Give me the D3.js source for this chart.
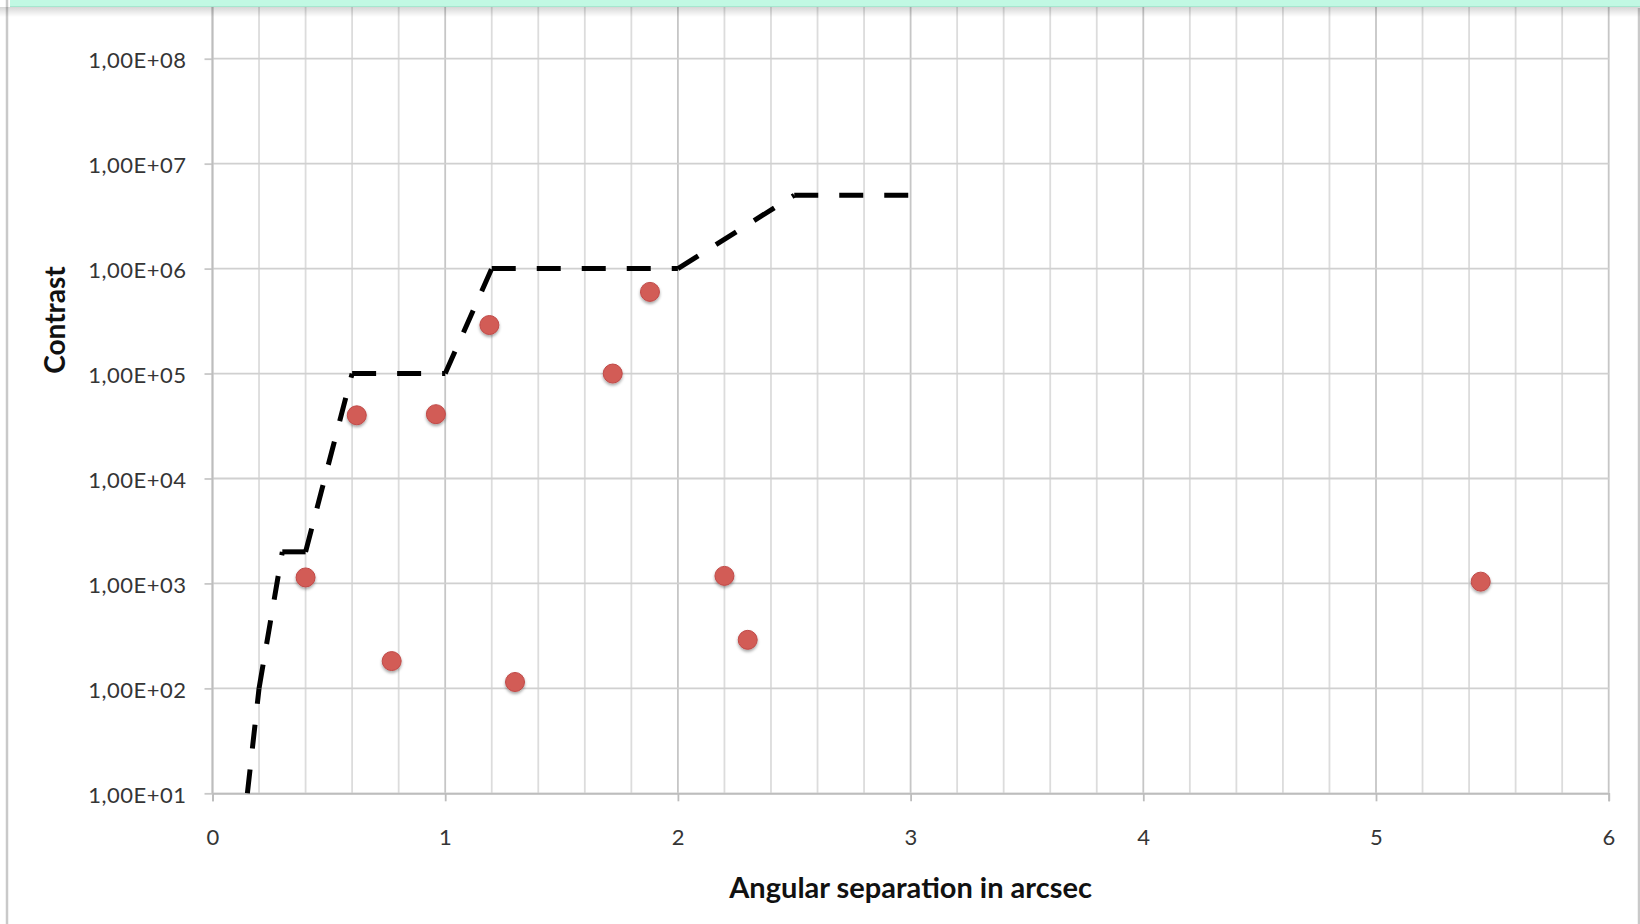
<!DOCTYPE html>
<html>
<head>
	<meta charset="utf-8">
	<title>Contrast vs angular separation</title>
	<style>
		body { margin: 0; background: #fff; }
		svg { display: block; }
		.tick text { font-family: 'Lato', sans-serif; font-size: 22px; letter-spacing: 0.5px; fill: #353535; }
		.title { font-family: 'Lato', sans-serif; font-weight: 700; font-size: 29px; fill: #111; }
	</style>
</head>
<body>
	<svg width="1640" height="924"></svg>

<script src="https://d3js.org/d3.v7.min.js"></script>
<script>

	// companions: separation (arcsec) and contrast
	const sepX = [0.40, 0.62, 0.77, 0.96, 1.19, 1.30, 1.72, 1.88, 2.20, 2.30, 5.45]
	const contrastY = [1140, 40000, 182, 41000, 290000, 115, 100000, 600000, 1180, 290, 1040]

	// detection limit curve
	const limitX = [0.15, 0.2, 0.3, 0.4, 0.6, 1.0, 1.2, 2.0, 2.5, 3.0]
	const limitY = [10, 100, 2000, 2000, 1e5, 1e5, 1e6, 1e6, 5e6, 5e6]

	const xTicks = [0, 1, 2, 3, 4, 5, 6]
	const xMinor = d3.range(0, 6.0001, 0.2)
	const yTicks = [1e1, 1e2, 1e3, 1e4, 1e5, 1e6, 1e7, 1e8]

	const W = 1640, H = 924
	const left = 212.5, right = 1608.7, bottom = 793.3

	const svg = d3.select('svg')

	const x = d3.scaleLinear().domain([0, 6]).range([left, right])
	const y = d3.scaleLog().domain([10, 1e9]).range([bottom, bottom - 8 * 104.94])

	// excel style "1,00E+08"
	function fmt(d) {
		let e = Math.round(Math.log10(d))
		return '1,00E+' + (e < 10 ? '0' + e : e)
	}

	let defs = svg.append('defs')
	let f = defs.append('filter').attr('id', 'shadow')
		.attr('x', '-50%').attr('y', '-50%').attr('width', '200%').attr('height', '200%')
	f.append('feDropShadow').attr('dx', 0).attr('dy', 2).attr('stdDeviation', 1.6)
		.attr('flood-color', '#000').attr('flood-opacity', 0.35)

	let lg = defs.append('linearGradient').attr('id', 'topShade')
		.attr('x1', 0).attr('y1', 0).attr('x2', 0).attr('y2', 1)
	lg.append('stop').attr('offset', 0).attr('stop-color', '#000').attr('stop-opacity', 0.16)
	lg.append('stop').attr('offset', 1).attr('stop-color', '#000').attr('stop-opacity', 0)

	// gridlines
	let grid = svg.append('g')

	grid.selectAll('.vminor')
		.data(xMinor)
		.join('line')
		.attr('x1', d => x(d)).attr('x2', d => x(d))
		.attr('y1', 0).attr('y2', bottom)
		.attr('stroke', d => Math.abs(d - Math.round(d)) < 1e-6 ? '#c6c6c6' : '#dcdcdc')
		.attr('stroke-width', 1.8)

	grid.selectAll('.hgrid')
		.data(yTicks)
		.join('line')
		.attr('x1', left).attr('x2', right)
		.attr('y1', d => y(d)).attr('y2', d => y(d))
		.attr('stroke', '#d0d0d0')
		.attr('stroke-width', 1.8)

	// axes
	let xAxis = svg.append('g')
		.attr('transform', `translate(0,${bottom})`)
		.call(d3.axisBottom(x).tickValues(xTicks).tickSize(8).tickPadding(28).tickFormat(d3.format('d')))
	xAxis.select('.domain').attr('stroke', '#bdbdbd').attr('stroke-width', 1.8)
	xAxis.selectAll('.tick line').attr('stroke', '#bdbdbd').attr('stroke-width', 1.8)

	let yAxis = svg.append('g')
		.attr('transform', `translate(${left},0)`)
		.call(d3.axisLeft(y).tickValues(yTicks).tickSize(8).tickPadding(18).tickFormat(fmt))
	yAxis.select('.domain').remove()
	yAxis.selectAll('.tick line').attr('stroke', '#c8c8c8').attr('stroke-width', 1.8)
	yAxis.selectAll('.tick text').attr('dy', '0.42em')

	// y axis line runs to the top of the frame
	svg.append('line')
		.attr('x1', left).attr('x2', left).attr('y1', 0).attr('y2', bottom)
		.attr('stroke', '#bdbdbd').attr('stroke-width', 1.8)

	// limit curve, dash pattern restarts at every vertex
	let pts = limitX.map((d, i) => [x(d), y(limitY[i])])
	let segs = d3.pairs(pts)

	svg.append('g').selectAll('path')
		.data(segs)
		.join('path')
		.attr('d', d => d3.line()(d))
		.attr('fill', 'none')
		.attr('stroke', '#000')
		.attr('stroke-width', 5)
		.attr('stroke-dasharray', '24 21')
		.attr('stroke-linecap', 'butt')

	// points
	svg.append('g').selectAll('circle')
		.data(sepX)
		.join('circle')
		.attr('cx', d => x(d))
		.attr('cy', (d, i) => y(contrastY[i]))
		.attr('r', 9.5)
		.attr('fill', '#d25b57')
		.attr('stroke', '#c04a47')
		.attr('stroke-width', 1)
		.attr('filter', 'url(#shadow)')

	// titles
	svg.append('text')
		.attr('class', 'title')
		.attr('x', (left + right) / 2)
		.attr('y', 898)
		.attr('text-anchor', 'middle')
		.text('Angular separation in arcsec')

	svg.append('text')
		.attr('class', 'title')
		.attr('transform', 'translate(65,320) rotate(-90)')
		.attr('text-anchor', 'middle')
		.style('font-size', '28px')
		.text('Contrast')

	// frame of the window around the chart
	svg.append('line')
		.attr('x1', 7).attr('x2', 7).attr('y1', 0).attr('y2', H)
		.attr('stroke', '#c9c9c9').attr('stroke-width', 2.5)
	svg.append('line')
		.attr('x1', 1639).attr('x2', 1639).attr('y1', 8).attr('y2', H)
		.attr('stroke', '#c9c9c9').attr('stroke-width', 2.5)

	svg.append('rect')
		.attr('x', 0).attr('y', 7).attr('width', W).attr('height', 10)
		.attr('fill', 'url(#topShade)')
	svg.append('rect')
		.attr('x', 10).attr('y', 0).attr('width', W - 10).attr('height', 7)
		.attr('fill', '#c1f8e3')
	svg.append('line')
		.attr('x1', 10).attr('x2', W).attr('y1', 6.5).attr('y2', 6.5)
		.attr('stroke', '#a6e6cf').attr('stroke-width', 1.2)

</script>
</body>
</html>
